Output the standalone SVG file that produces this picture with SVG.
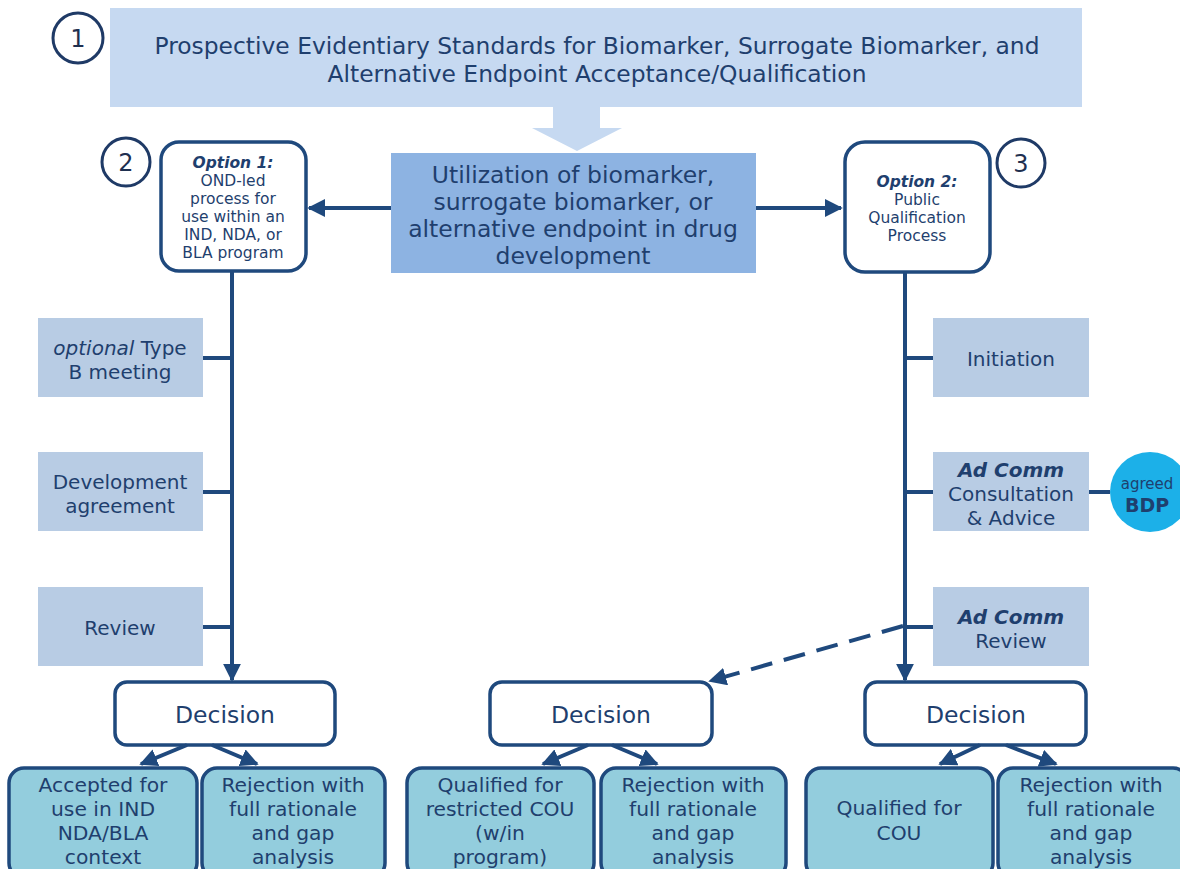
<svg xmlns="http://www.w3.org/2000/svg" width="1180" height="869" viewBox="0 0 1180 869">
<style>
text{font-family:"DejaVu Sans",Verdana,sans-serif;fill:#1f3f6e;text-anchor:middle}
.num{font-size:24px;fill:#1f3050}
.circ{fill:#fff;stroke:#1f3a66;stroke-width:3}
.step{fill:#b8cce4}
.opt{fill:#fff;stroke:#1f497d;stroke-width:3.5}
.dec{fill:#fff;stroke:#1f497d;stroke-width:3.5}
.out{fill:#93cddd;stroke:#1f497d;stroke-width:3.5}
.ln{stroke:#1f497d;stroke-width:4;fill:none}
.t19{font-size:20px}
.t14{font-size:15.5px}
.t18{font-size:20.3px}
</style>
<defs>
<marker id="ah" viewBox="0 0 10 10" refX="9" refY="5" markerWidth="4.5" markerHeight="4.5" orient="auto" markerUnits="strokeWidth">
<path d="M0,0 L10,5 L0,10 z" fill="#1f497d"/>
</marker>
</defs>

<g id="n1">
<circle class="circ" cx="78" cy="38" r="25"/>
<text class="num" x="78" y="47">1</text>
</g>
<g id="banner">
<rect x="110" y="8" width="972" height="99" fill="#c6d9f1"/>
<text x="597" y="54" font-size="22.5px" textLength="885" lengthAdjust="spacingAndGlyphs">Prospective Evidentiary Standards for Biomarker, Surrogate Biomarker, and</text>
<text x="597" y="82" font-size="22.5px" textLength="539" lengthAdjust="spacingAndGlyphs">Alternative Endpoint Acceptance/Qualification</text>
<path d="M553,107 H600 V128 H622 L577,151 L532,128 H553 Z" fill="#c6d9f1"/>
</g>

<g id="center">
<rect x="391" y="153" width="365" height="120" fill="#8db3e2"/>
<text x="573" y="183" font-size="23.5px">Utilization of biomarker,</text>
<text x="573" y="210" font-size="23.5px">surrogate biomarker, or</text>
<text x="573" y="237" font-size="23.5px">alternative endpoint in drug</text>
<text x="573" y="264" font-size="23.5px">development</text>
</g>

<g id="n2">
<circle class="circ" cx="126" cy="162" r="24"/>
<text class="num" x="126" y="171">2</text>
</g>
<g id="opt1">
<rect class="opt" x="161" y="142" width="145" height="129" rx="18"/>
<text class="t14" x="233" y="168" font-weight="bold" font-style="italic">Option 1:</text>
<text class="t14" x="233" y="186">OND-led</text>
<text class="t14" x="233" y="204">process for</text>
<text class="t14" x="233" y="222">use within an</text>
<text class="t14" x="233" y="240">IND, NDA, or</text>
<text class="t14" x="233" y="258">BLA program</text>
</g>

<g id="n3">
<circle class="circ" cx="1021" cy="163" r="24"/>
<text class="num" x="1021" y="172">3</text>
</g>
<g id="opt2">
<rect class="opt" x="845" y="142" width="145" height="130" rx="20"/>
<text class="t14" x="917" y="187" font-weight="bold" font-style="italic">Option 2:</text>
<text class="t14" x="917" y="205">Public</text>
<text class="t14" x="917" y="223">Qualification</text>
<text class="t14" x="917" y="241">Process</text>
</g>

<g id="l1">
<rect class="step" x="38" y="318" width="165" height="79"/>
<text class="t19" x="120" y="355"><tspan font-style="italic">optional</tspan> Type</text>
<text class="t19" x="120" y="379">B meeting</text>
</g>
<g id="l2">
<rect class="step" x="38" y="452" width="165" height="79"/>
<text class="t19" x="120" y="489">Development</text>
<text class="t19" x="120" y="513">agreement</text>
</g>
<g id="l3">
<rect class="step" x="38" y="587" width="165" height="79"/>
<text class="t19" x="120" y="635">Review</text>
</g>

<g id="r1">
<rect class="step" x="933" y="318" width="156" height="79"/>
<text class="t19" x="1011" y="366">Initiation</text>
</g>
<g id="r2">
<rect class="step" x="933" y="452" width="156" height="79"/>
<text class="t19" x="1011" y="477" font-weight="bold" font-style="italic">Ad Comm</text>
<text class="t19" x="1011" y="501">Consultation</text>
<text class="t19" x="1011" y="525">&amp; Advice</text>
</g>
<g id="r3">
<rect class="step" x="933" y="587" width="156" height="79"/>
<text class="t19" x="1011" y="624" font-weight="bold" font-style="italic">Ad Comm</text>
<text class="t19" x="1011" y="648">Review</text>
</g>
<g id="bdp">
<circle cx="1150" cy="492" r="40" fill="#1cb0e8"/>
<text x="1147" y="489" font-size="15px">agreed</text>
<text x="1147" y="512" font-size="19px" font-weight="bold">BDP</text>
</g>

<g id="d1">
<rect class="dec" x="115" y="682" width="220" height="63" rx="12"/>
<text x="225" y="723" font-size="23.5px">Decision</text>
</g>
<g id="d2">
<rect class="dec" x="490" y="682" width="222" height="63" rx="12"/>
<text x="601" y="723" font-size="23.5px">Decision</text>
</g>
<g id="d3">
<rect class="dec" x="865" y="682" width="221" height="63" rx="12"/>
<text x="976" y="723" font-size="23.5px">Decision</text>
</g>

<g id="o1">
<rect class="out" x="9" y="768" width="188" height="110" rx="15"/>
<text class="t18" x="103" y="792">Accepted for</text>
<text class="t18" x="103" y="816">use in IND</text>
<text class="t18" x="103" y="840">NDA/BLA</text>
<text class="t18" x="103" y="864">context</text>
</g>
<g id="o2">
<rect class="out" x="202" y="768" width="183" height="110" rx="15"/>
<text class="t18" x="293" y="792">Rejection with</text>
<text class="t18" x="293" y="816">full rationale</text>
<text class="t18" x="293" y="840">and gap</text>
<text class="t18" x="293" y="864">analysis</text>
</g>
<g id="o3">
<rect class="out" x="407" y="768" width="187" height="110" rx="15"/>
<text class="t18" x="500" y="792">Qualified for</text>
<text class="t18" x="500" y="816">restricted COU</text>
<text class="t18" x="500" y="840">(w/in</text>
<text class="t18" x="500" y="864">program)</text>
</g>
<g id="o4">
<rect class="out" x="601" y="768" width="185" height="110" rx="15"/>
<text class="t18" x="693" y="792">Rejection with</text>
<text class="t18" x="693" y="816">full rationale</text>
<text class="t18" x="693" y="840">and gap</text>
<text class="t18" x="693" y="864">analysis</text>
</g>
<g id="o5">
<rect class="out" x="806" y="768" width="187" height="110" rx="15"/>
<text class="t18" x="899" y="815">Qualified for</text>
<text class="t18" x="899" y="840">COU</text>
</g>
<g id="o6">
<rect class="out" x="998" y="768" width="190" height="110" rx="15"/>
<text class="t18" x="1091" y="792">Rejection with</text>
<text class="t18" x="1091" y="816">full rationale</text>
<text class="t18" x="1091" y="840">and gap</text>
<text class="t18" x="1091" y="864">analysis</text>
</g>

<g id="connectors">
<line class="ln" x1="391" y1="208" x2="309" y2="208" marker-end="url(#ah)"/>
<line class="ln" x1="756" y1="208" x2="841" y2="208" marker-end="url(#ah)"/>
<line class="ln" x1="232" y1="272" x2="232" y2="680" marker-end="url(#ah)"/>
<line class="ln" x1="203" y1="358" x2="232" y2="358"/>
<line class="ln" x1="203" y1="492" x2="232" y2="492"/>
<line class="ln" x1="203" y1="627" x2="232" y2="627"/>
<line class="ln" x1="905" y1="273" x2="905" y2="680" marker-end="url(#ah)"/>
<line class="ln" x1="905" y1="358" x2="933" y2="358"/>
<line class="ln" x1="905" y1="492" x2="933" y2="492"/>
<line class="ln" x1="905" y1="627" x2="933" y2="627"/>
<line class="ln" x1="1089" y1="492" x2="1110" y2="492"/>
<line class="ln" x1="903" y1="626" x2="710" y2="681" stroke-dasharray="22 12" marker-end="url(#ah)"/>
<line class="ln" x1="187" y1="745" x2="141" y2="764" marker-end="url(#ah)"/>
<line class="ln" x1="212" y1="745" x2="257" y2="764" marker-end="url(#ah)"/>
<line class="ln" x1="588" y1="745" x2="543" y2="764" marker-end="url(#ah)"/>
<line class="ln" x1="612" y1="745" x2="657" y2="764" marker-end="url(#ah)"/>
<line class="ln" x1="980" y1="745" x2="940" y2="764" marker-end="url(#ah)"/>
<line class="ln" x1="1006" y1="745" x2="1056" y2="764" marker-end="url(#ah)"/>
</g>
</svg>
